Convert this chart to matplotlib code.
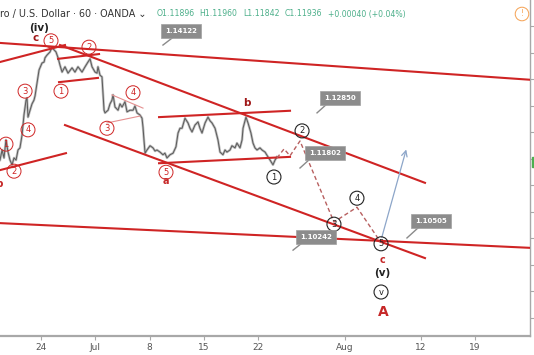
import matplotlib.pyplot as plt

# x axis is in trading days (weekends removed), 0 = Mon 24 Jun
tick_pos = [0, 5, 10, 15, 20, 28, 35, 40]
tick_lab = ['24', 'Jul', '8', '15', '22', 'Aug', '12', '19']

# hourly EUR/USD path
bar_t = [-3.78, -3.59, -3.41, -3.23, -3.04, -2.86, -2.67, -2.49, -2.30, -2.12,
         -1.94, -1.75, -1.57, -1.38, -1.29, -1.20, -1.01, -0.83, -0.65, -0.55,
         -0.37, -0.18, 0.09, 0.28, 0.37, 0.55, 0.83, 1.01, 1.20, 1.38,
         1.57, 1.75, 1.94, 2.21, 2.49, 2.86, 3.13, 3.41, 3.78, 4.06,
         4.33, 4.52, 4.70, 4.98, 5.16, 5.25, 5.44, 5.62, 5.71, 5.81,
         5.90, 6.18, 6.36, 6.54, 6.64, 6.82, 7.10, 7.28, 7.47, 7.74,
         7.93, 8.20, 8.48, 8.66, 8.85, 9.12, 9.31, 9.40, 9.49, 9.59,
         9.77, 10.05, 10.32, 10.51, 10.69, 10.97, 11.24, 11.42, 11.61, 11.89,
         12.17, 12.44, 12.63, 12.81, 13.00, 13.27, 13.55, 13.73, 13.92, 14.19,
         14.47, 14.65, 14.84, 15.12, 15.39, 15.58, 15.76, 16.04, 16.31, 16.50,
         16.77, 16.96, 17.14, 17.42, 17.60, 17.88, 18.06, 18.34, 18.53, 18.62,
         18.89, 19.08, 19.35, 19.54, 19.72, 19.91, 20.18, 20.37, 20.65, 20.92,
         21.11, 21.29, 21.38, 21.57, 21.75]
bar_close = [1.1198, 1.1217, 1.1202, 1.1236, 1.1213, 1.1198, 1.1189, 1.1202, 1.1198, 1.1217,
             1.1221, 1.1245, 1.1283, 1.1311, 1.1315, 1.1279, 1.1292, 1.1304, 1.1311, 1.1319,
             1.1343, 1.1368, 1.1381, 1.1383, 1.1391, 1.1396, 1.1402, 1.1411, 1.1406, 1.1402,
             1.1391, 1.1377, 1.1364, 1.1374, 1.1362, 1.1372, 1.1364, 1.1374, 1.1364, 1.1374,
             1.1383, 1.1389, 1.1374, 1.1364, 1.1362, 1.1374, 1.1358, 1.1355, 1.1325, 1.1292,
             1.1287, 1.1292, 1.1304, 1.1311, 1.1321, 1.1298, 1.1292, 1.1304, 1.1298, 1.1308,
             1.1289, 1.1292, 1.1292, 1.1300, 1.1287, 1.1283, 1.1277, 1.1260, 1.1236, 1.1211,
             1.1217, 1.1225, 1.1221, 1.1215, 1.1217, 1.1213, 1.1208, 1.1211, 1.1202, 1.1208,
             1.1211, 1.1223, 1.1249, 1.1258, 1.1258, 1.1277, 1.1268, 1.1258, 1.1251, 1.1264,
             1.1270, 1.1258, 1.1249, 1.1268, 1.1279, 1.1272, 1.1268, 1.1258, 1.1236, 1.1213,
             1.1208, 1.1217, 1.1213, 1.1217, 1.1225, 1.1221, 1.1230, 1.1221, 1.1236, 1.1258,
             1.1279, 1.1268, 1.1249, 1.1230, 1.1221, 1.1217, 1.1221, 1.1217, 1.1213, 1.1204,
             1.1198, 1.1192, 1.1189, 1.1198, 1.1204]

# projected path (dashed) and the rebound arrow
proj_t = [21.75, 22.40, 22.95, 23.87, 27.00, 29.12, 31.34]
proj_p = [1.1202, 1.1219, 1.1206, 1.1234, 1.1081, 1.1109, 1.1042]
arrow_t = [31.34, 33.73]
arrow_p = [1.1047, 1.1223]

# trend lines  (t0, p0, t1, p1)
red_lines = [(-3.78, 1.1419, 45.44, 1.1349),
             (-3.78, 1.1383, 2.21, 1.1415),
             (1.75, 1.1415, 35.39, 1.1155),
             (2.21, 1.1264, 35.39, 1.1013),
             (-3.78, 1.1079, 45.44, 1.1032),
             (-3.78, 1.1179, 2.30, 1.1211),
             (1.57, 1.1389, 5.35, 1.1398),
             (1.66, 1.1345, 5.25, 1.1353),
             (10.88, 1.1279, 22.95, 1.1291),
             (10.88, 1.1192, 22.95, 1.1204)]
thin_lines = [(6.54, 1.1321, 9.40, 1.1296),
              (6.08, 1.1268, 9.12, 1.1281)]

# circled wave counts
red_waves = [('1', -3.23, 1.1228), ('2', -2.49, 1.1177), ('3', -1.47, 1.1328),
             ('4', -1.20, 1.1255), ('5', 0.92, 1.1423), ('1', 1.84, 1.1328),
             ('2', 4.42, 1.1411), ('3', 6.08, 1.1258), ('4', 8.48, 1.1325),
             ('5', 11.52, 1.1175)]
black_waves = [('1', 21.47, 1.1166), ('2', 24.06, 1.1253), ('3', 27.00, 1.1077),
               ('4', 29.12, 1.1126), ('5', 31.34, 1.1040), ('v', 31.34, 1.0949)]

# plain labels (text, t, price, colour, size)
letters = [('(iv)', -0.18, 1.1447, '#222222', 7.5),
           ('c', -0.46, 1.1428, '#a01818', 7.5),
           ('b', -3.87, 1.1153, '#c62828', 7.5),
           ('a', 11.52, 1.1158, '#c62828', 7),
           ('b', 18.99, 1.1306, '#a01818', 7.5),
           ('c', 31.45, 1.1009, '#c62828', 7),
           ('(v)', 31.45, 1.0985, '#222222', 7.5),
           ('A', 31.55, 1.0911, '#c62828', 10)]

# price tags: text, box centre, pointer tip, pointer joint
price_tags = [('1.14122', 12.90, 1.1442, 11.24, 1.1415, 12.07, 1.1428),
              ('1.12850', 27.56, 1.1315, 25.44, 1.1287, 26.36, 1.1304),
              ('1.11802', 26.18, 1.1211, 23.87, 1.1183, 24.79, 1.1200),
              ('1.10242', 25.35, 1.1053, 23.23, 1.1028, 24.15, 1.1043),
              ('1.10505', 35.94, 1.1083, 33.73, 1.1051, 34.75, 1.1070)]

W, H = 534, 355
fig = plt.figure(figsize=(W / 100, H / 100), dpi=100)
ax = fig.add_axes([0, 19 / H, 530 / W, 336 / H])
ax.set_xlim(-3.78, 45.07)
ax.set_ylim(1.0866, 1.15)

red = '#cf2424'

ax.plot(bar_t, bar_close, color='#bdbdbd', lw=1.8, zorder=2)
ax.plot(bar_t, bar_close, color='#5a5a5a', lw=0.7, zorder=3)

for t0, p0, t1, p1 in red_lines:
    ax.plot([t0, t1], [p0, p1], color=red, lw=1.5, zorder=4)
for t0, p0, t1, p1 in thin_lines:
    ax.plot([t0, t1], [p0, p1], color='#e59090', lw=0.8, zorder=4)

ax.plot(proj_t, proj_p, color='#b86060', lw=1, dashes=(3, 2), zorder=4)
ax.annotate('', xy=(arrow_t[1], arrow_p[1]), xytext=(arrow_t[0], arrow_p[0]),
            arrowprops=dict(arrowstyle='->', color='#8da6c9', lw=0.9), zorder=4)

for lab, t, p in red_waves:
    ax.text(t, p, lab, color=red, fontsize=6, ha='center', va='center', zorder=6,
            bbox=dict(boxstyle='circle,pad=0.3', fc='none', ec=red, lw=0.7))
for lab, t, p in black_waves:
    ax.text(t, p, lab, color='#222222', fontsize=6, ha='center', va='center', zorder=6,
            bbox=dict(boxstyle='circle,pad=0.3', fc='none', ec='#222222', lw=0.8))

for lab, t, p, c, s in letters:
    ax.text(t, p, lab, color=c, fontsize=s, fontweight='bold', ha='center', va='center',
            zorder=6, clip_on=True)

for lab, bt, bp, tt, tp, jt, jp in price_tags:
    ax.plot([tt, jt], [tp, jp], color='#8a8a8a', lw=1, zorder=5)
    ax.text(bt, bp, lab, color='white', fontsize=5, fontweight='bold', ha='center',
            va='center', zorder=6,
            bbox=dict(boxstyle='square,pad=0.6', fc='#8c8c8c', ec='#a0a0a0', lw=0.5))

# axes styling
for s in ['top', 'left']:
    ax.spines[s].set_visible(False)
ax.spines['bottom'].set_color('#a8a8a8')
ax.spines['bottom'].set_linewidth(1.6)
ax.spines['right'].set_color('#a8a8a8')
ax.spines['right'].set_linewidth(1.0)
ax.set_xticks(tick_pos)
ax.set_xticklabels(tick_lab)
ax.tick_params(axis='x', length=3, color='#a8a8a8', labelsize=6.5,
               labelcolor='#555555', pad=2)
ax.yaxis.tick_right()
ax.set_yticks([1.09 + 0.005 * i for i in range(12)])
ax.tick_params(axis='y', length=3, color='#a8a8a8', labelright=False)

# header
hy = 1 - 14 / H
fig.text(0 / W, hy, 'ro / U.S. Dollar \u00b7 60 \u00b7 OANDA \u2304', fontsize=6.9,
         color='#333333', va='center')
for x, s in [(157, 'O1.11896'), (199, 'H1.11960'), (243, 'L1.11842'),
             (285, 'C1.11936'), (328, '+0.00040 (+0.04%)')]:
    fig.text(x / W, hy, s, fontsize=5.6, color='#4caf8a', va='center')
fig.text(522 / W, hy, '!', fontsize=5.5, color='#f5a050', ha='center', va='center',
         bbox=dict(boxstyle='circle,pad=0.3', fc='none', ec='#f5a050', lw=0.7))
fig.patches.append(plt.Rectangle((531.5 / W, 1 - 167 / H), 3 / W, 10 / H,
                                 transform=fig.transFigure, color='#4caf50'))

fig.savefig('out.png', dpi=100)
